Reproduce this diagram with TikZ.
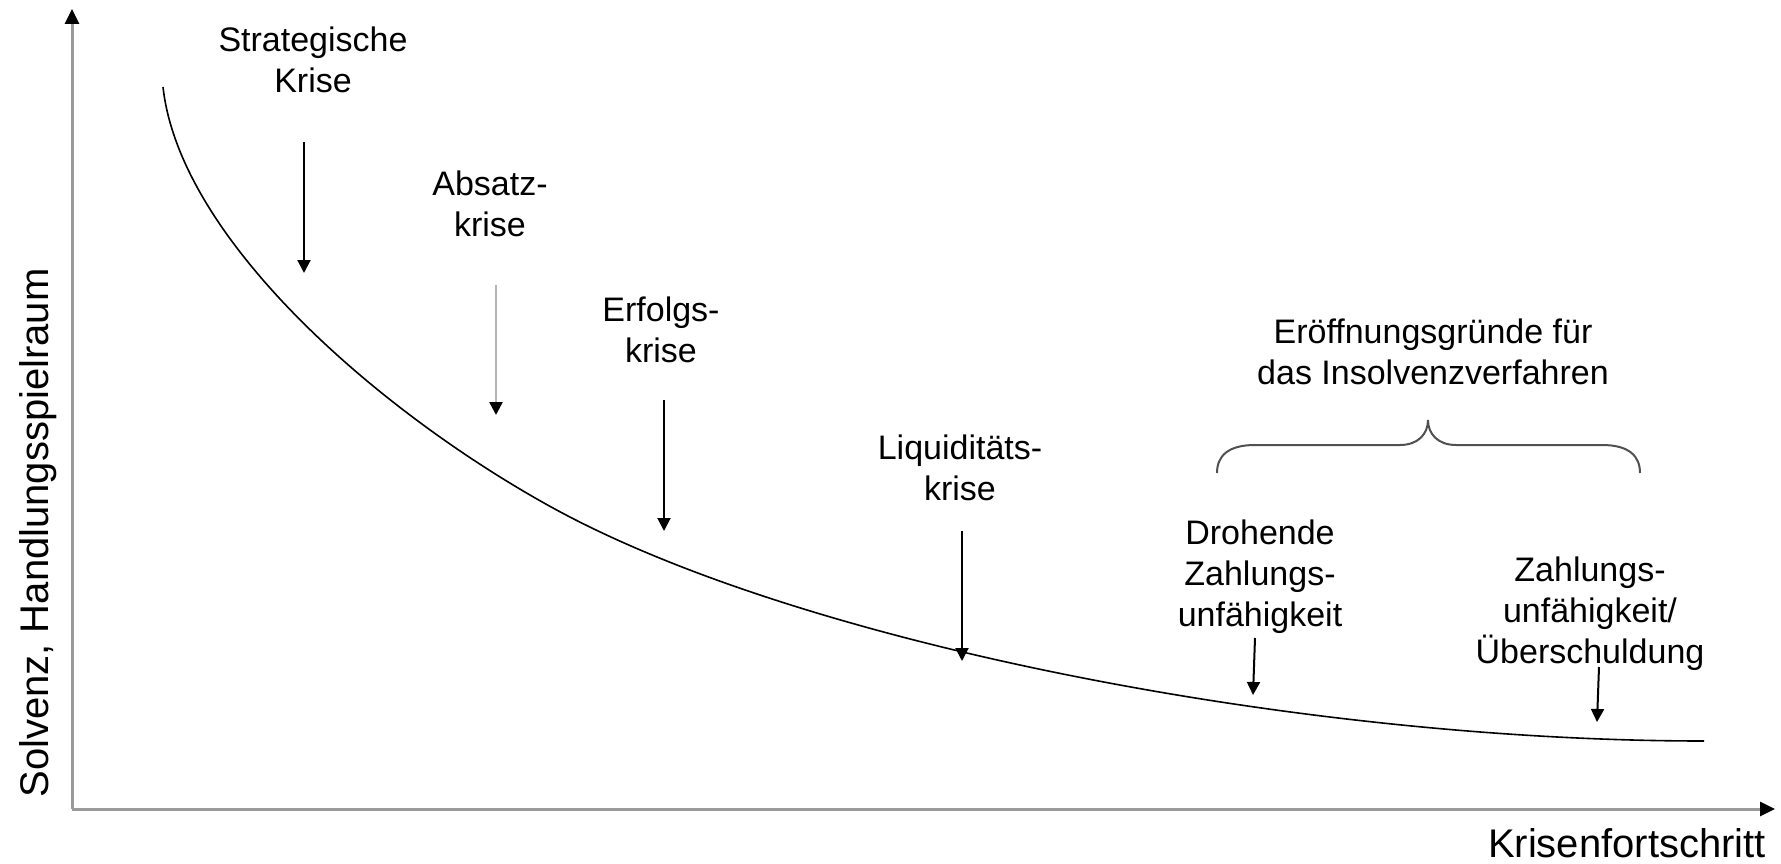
\documentclass[tikz,border=0pt]{standalone}
\usepackage{fontspec}
\setmainfont{Liberation Sans}
\usetikzlibrary{arrows.meta}

\definecolor{axisgray}{HTML}{9A9A9A}
\definecolor{lightarrow}{HTML}{B4B4B4}
\definecolor{bracegray}{HTML}{505050}

\tikzset{
  label/.style={inner sep=0pt, align=center, font=\fontsize{34}{41}\selectfont},
  axislabel/.style={inner sep=0pt, font=\fontsize{40}{48}\selectfont},
  axis/.style={draw=axisgray, line width=3pt, -{Triangle[length=15pt,width=14pt,color=black]}},
  pfeil/.style={line width=2pt, -{Triangle[length=13pt,width=13pt]}},
  greypfeil/.style={draw=lightarrow, line width=2.5pt, -{Triangle[length=13pt,width=13pt,color=black]}},
  curve/.style={line width=1.6pt},
  bracket/.style={draw=bracegray, line width=2pt}
}

\begin{document}
\begin{tikzpicture}[x=1pt, y=-1pt]
  \useasboundingbox (0,0) rectangle (1781,864);

  % axes
  \coordinate (O) at (72,809);
  \coordinate (ytop) at (72,9);
  \coordinate (xend) at (1775,809);
  \draw[axis] (O) -- (ytop);
  \draw[axis] (O) -- (xend);
  \node[axislabel, rotate=90, anchor=base] (ylab) at (48,533) {Solvenz, Handlungsspielraum};
  \node[axislabel, anchor=base] (xlab) at (1627,857) {Krisenfortschritt};

  % crisis curve: two joined cubic segments, flat at the end
  \coordinate (c0) at (163,87);
  \coordinate (c1) at (553,508);
  \coordinate (c2) at (1704,741);
  \draw[curve] (c0) .. controls (180,240) and (380,413) .. (c1)
                    .. controls (803,645) and (1304,741) .. (c2);

  % crisis stages
  \node[label] (strat) at (313,60) {Strategische\\Krise};
  \node[label] (absatz) at (490,203.5) {Absatz-\\krise};
  \node[label] (erfolg) at (661,330) {Erfolgs-\\krise};
  \node[label] (liqui) at (960,467.5) {Liquiditäts-\\krise};
  \node[label] (eroeff) at (1433,351.5) {Eröffnungsgründe für\\das Insolvenzverfahren};
  \node[label] (droh) at (1260,577) {Drohende\\Zahlungs-\\unfähigkeit};
  \node[label] (zahl) at (1590,613.5) {Zahlungs-\\unfähigkeit/\\Überschuldung};

  % arrows onto the curve
  \coordinate (s1) at (304,142);  \coordinate (e1) at (304,273);
  \coordinate (s2) at (496,285);  \coordinate (e2) at (496,415);
  \coordinate (s3) at (664,400);  \coordinate (e3) at (664,531);
  \coordinate (s4) at (962,531);  \coordinate (e4) at (962,661);
  \coordinate (s5) at (1255,638); \coordinate (e5) at (1253,695);
  \coordinate (s6) at (1599,667); \coordinate (e6) at (1597,722);
  \draw[pfeil] (s1) -- (e1);
  \draw[greypfeil] (s2) -- (e2);
  \draw[pfeil] (s3) -- (e3);
  \draw[pfeil] (s4) -- (e4);
  \draw[pfeil] (s5) -- (e5);
  \draw[pfeil] (s6) -- (e6);

  % curly brace over the insolvency grounds
  \coordinate (bl) at (1217,473);
  \coordinate (bt) at (1428,420);
  \coordinate (br) at (1640,473);
  \draw[bracket] (bl) .. controls (1217,456) and (1228,445) .. (1255,445)
    -- (1400,445) .. controls (1418,445) and (1428,434) .. (bt)
    .. controls (1428,434) and (1438,445) .. (1456,445)
    -- (1602,445) .. controls (1629,445) and (1640,456) .. (br);
\end{tikzpicture}
\end{document}
